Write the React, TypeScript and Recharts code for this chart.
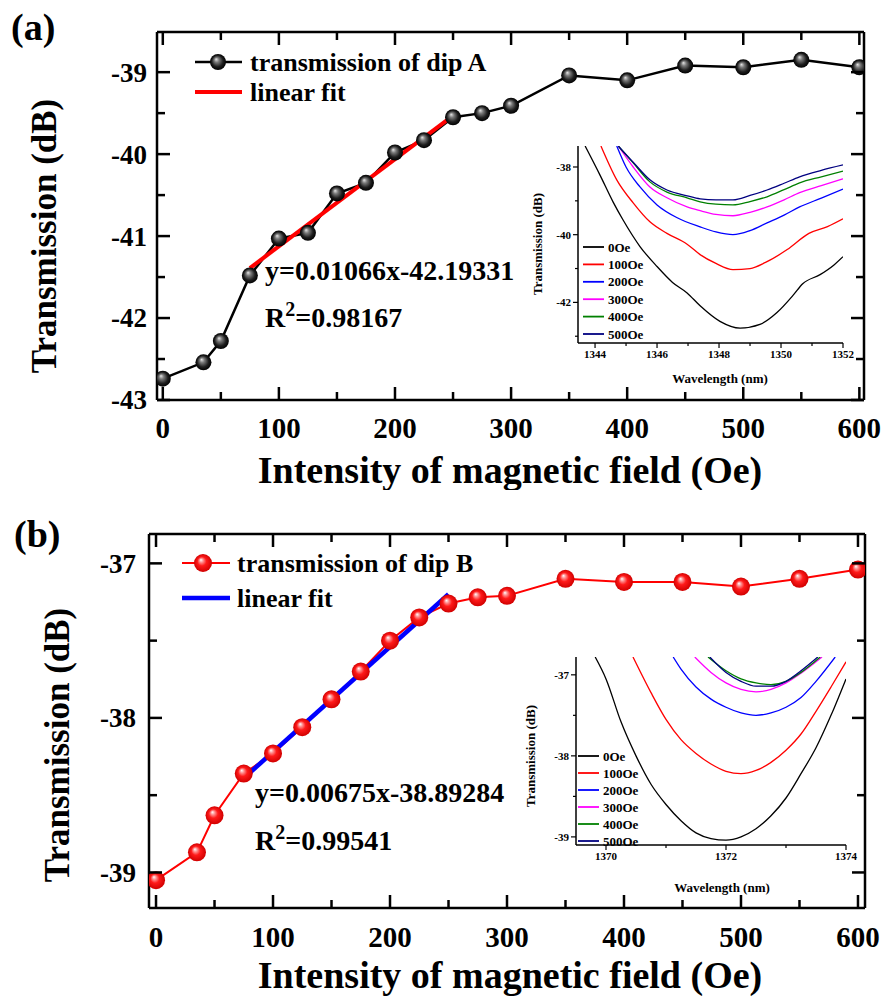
import React from "react";
import { LineChart, Line, XAxis, YAxis } from "recharts";

const FONT = '"Liberation Serif", "Times New Roman", serif';

// main panels: magnetic field (Oe) vs dip transmission (dB)
const fields = [0, 35, 50, 75, 100, 125, 150, 175, 200, 225, 250, 275, 300, 350, 400, 450, 500, 550, 600];
const dipA = [-42.74, -42.54, -42.28, -41.48, -41.03, -40.96, -40.48, -40.35, -39.98, -39.83, -39.55, -39.5, -39.41, -39.04, -39.1, -38.92, -38.94, -38.85, -38.94];
const dipB = [-39.05, -38.87, -38.63, -38.36, -38.23, -38.06, -37.88, -37.7, -37.5, -37.35, -37.26, -37.22, -37.21, -37.1, -37.12, -37.12, -37.15, -37.1, -37.04];
const fitX = [75, 250];
const fitA = [-41.39, -39.53];
const fitB = [-38.39, -37.2];

const fieldTicks = [0, 50, 100, 150, 200, 250, 300, 350, 400, 450, 500, 550, 600];
const fieldMajors = [0, 100, 200, 300, 400, 500, 600];
const yTicksA = [-43, -42.5, -42, -41.5, -41, -40.5, -40, -39.5, -39];
const yTicksB = [-39, -38.5, -38, -37.5, -37];
const intMajors = [-43, -42, -41, -40, -39, -38, -37];

// inset (a): spectra around dip A
const insetALabels = ["0Oe", "100Oe", "200Oe", "300Oe", "400Oe", "500Oe"];
const insetColors = ["#000000", "#ff0000", "#0000ff", "#ff00ff", "#008000", "#000080"];
const a0Wl = [1343.68, 1344.16, 1344.58, 1344.9, 1345.45, 1346.0, 1346.5, 1346.97, 1347.39, 1348.03, 1348.68, 1349.32, 1349.87, 1350.4, 1350.7, 1351.26, 1351.7, 1352];
const a0T = [-37.38, -38.24, -39.03, -39.56, -40.35, -40.94, -41.41, -41.72, -42.1, -42.56, -42.76, -42.65, -42.3, -41.78, -41.45, -41.18, -40.9, -40.65];
const a100Wl = [1344.19, 1344.7, 1345.23, 1345.77, 1346.32, 1346.97, 1347.39, 1347.9, 1348.45, 1349.0, 1349.5, 1350.2, 1350.9, 1351.5, 1352];
const a100T = [-37.38, -38.38, -39.06, -39.62, -39.96, -40.28, -40.59, -40.85, -41.03, -41.0, -40.82, -40.44, -39.96, -39.76, -39.53];
const a200Wl = [1344.7, 1345.0, 1345.45, 1346.0, 1346.65, 1347.39, 1347.9, 1348.45, 1349.0, 1349.55, 1350.1, 1350.6, 1351.3, 1352];
const a200T = [-37.38, -38.0, -38.59, -39.12, -39.5, -39.77, -39.92, -40.0, -39.88, -39.65, -39.42, -39.18, -38.92, -38.65];
const aHiWl = [1344.75, 1345.23, 1345.77, 1346.32, 1346.97, 1347.39, 1347.9, 1348.45, 1349.0, 1349.55, 1350.1, 1350.6, 1351.3, 1352];
const a300T = [-37.38, -38.0, -38.59, -38.91, -39.18, -39.29, -39.4, -39.44, -39.34, -39.18, -38.97, -38.76, -38.55, -38.35];
const a400T = [-37.38, -37.88, -38.44, -38.74, -38.91, -39.03, -39.1, -39.12, -39.02, -38.88, -38.67, -38.47, -38.29, -38.12];
const a500T = [-37.38, -37.86, -38.38, -38.68, -38.85, -38.94, -38.97, -38.97, -38.84, -38.68, -38.48, -38.29, -38.1, -37.94];

// inset (b): spectra around dip B
const b0Wl = [1369.82, 1370.0, 1370.25, 1370.5, 1370.75, 1371.0, 1371.25, 1371.5, 1371.75, 1372.0, 1372.25, 1372.5, 1372.75, 1373.0, 1373.25, 1373.5, 1373.75, 1374.0];
const b0T = [-36.78, -37.05, -37.58, -38.0, -38.35, -38.6, -38.8, -38.95, -39.02, -39.04, -39.0, -38.9, -38.74, -38.52, -38.22, -37.9, -37.5, -37.05];
const b100Wl = [1370.45, 1370.75, 1371.0, 1371.25, 1371.5, 1371.75, 1372.0, 1372.25, 1372.5, 1372.75, 1373.0, 1373.25, 1373.5, 1373.75, 1374.0];
const b100T = [-36.78, -37.22, -37.55, -37.8, -37.97, -38.1, -38.19, -38.22, -38.18, -38.08, -37.93, -37.73, -37.45, -37.15, -36.84];
const b200Wl = [1371.12, 1371.25, 1371.5, 1371.75, 1372.0, 1372.25, 1372.5, 1372.75, 1373.0, 1373.25, 1373.5, 1373.82];
const b200T = [-36.78, -36.93, -37.15, -37.3, -37.4, -37.47, -37.5, -37.47, -37.4, -37.28, -37.08, -36.78];
const b300Wl = [1371.48, 1371.75, 1372.0, 1372.25, 1372.5, 1372.75, 1373.0, 1373.25, 1373.6];
const b300T = [-36.78, -36.97, -37.1, -37.18, -37.21, -37.18, -37.1, -36.98, -36.78];
const b400Wl = [1371.7, 1372.0, 1372.25, 1372.5, 1372.75, 1373.0, 1373.25, 1373.57];
const b400T = [-36.78, -36.95, -37.05, -37.1, -37.12, -37.08, -36.97, -36.78];
const b500Wl = [1371.73, 1372.0, 1372.25, 1372.5, 1372.75, 1373.0, 1373.25, 1373.53];
const b500T = [-36.78, -36.97, -37.08, -37.14, -37.14, -37.08, -36.95, -36.78];

const zip = (xs: number[], ys: number[]) => xs.map((x, i) => ({ x, y: ys[i] }));

const txt = (size: number) => ({ fontFamily: FONT, fontWeight: 700, fontSize: size, fill: "#000" });

// tick drawn by hand so it can point into the frame and have minor ticks
const AxisTick = (props: any) => {
  const { x, y, payload, side, majors, majorLen, minorLen, inward, showLabel, gap, fontSize, sw } = props;
  const v = payload?.value;
  const isMajor = majors.some((m: number) => Math.abs(m - v) < 1e-6);
  const len = isMajor ? majorLen : minorLen;
  const d = inward ? 1 : -1;
  const label = showLabel && isMajor ? String(v) : null;
  if (side === "left" || side === "right") {
    const dir = side === "left" ? d : -d;
    const x2 = x + dir * len;
    return (
      <g>
        <line x1={x} y1={y} x2={x2} y2={y} stroke="#000" strokeWidth={sw} />
        {label && (
          <text x={Math.min(x, x2) - gap} y={y} dy="0.35em" textAnchor="end" style={txt(fontSize)}>
            {label}
          </text>
        )}
      </g>
    );
  }
  const dir = side === "bottom" ? -d : d;
  const y2 = y + dir * len;
  return (
    <g>
      <line x1={x} y1={y} x2={x} y2={y2} stroke="#000" strokeWidth={sw} />
      {label && (
        <text x={x} y={Math.max(y, y2) + gap} dy="0.35em" textAnchor="middle" style={txt(fontSize)}>
          {label}
        </text>
      )}
    </g>
  );
};

const tickFn = (opts: any) => (p: any) => <AxisTick {...p} {...opts} />;

const ballDot = (fill: string, r: number) => (p: any) =>
  <circle key={`d-${p.index}`} cx={p.cx} cy={p.cy} r={r} fill={fill} />;

const BallDefs = () => (
  <defs>
    <radialGradient id="ballK" cx="50%" cy="50%" r="50%" fx="38%" fy="32%">
      <stop offset="0%" stopColor="#e6e6e6" />
      <stop offset="30%" stopColor="#7a7a7a" />
      <stop offset="70%" stopColor="#1e1e1e" />
      <stop offset="100%" stopColor="#000" />
    </radialGradient>
    <radialGradient id="ballR" cx="50%" cy="50%" r="50%" fx="38%" fy="32%">
      <stop offset="0%" stopColor="#ffffff" />
      <stop offset="22%" stopColor="#ff9090" />
      <stop offset="50%" stopColor="#ff1a1a" />
      <stop offset="100%" stopColor="#d00000" />
    </radialGradient>
  </defs>
);

const mainAxes = (xDomain: number[], yDomain: number[], yTicks: number[], yGap: number, xGap: number) => {
  const base = { majorLen: 13, minorLen: 8, inward: true, sw: 2.5 };
  const axisLine = { stroke: "#000", strokeWidth: 2.5 };
  return [
    <XAxis key="xb" xAxisId="b" type="number" dataKey="x" domain={xDomain} ticks={fieldTicks} interval={0}
      allowDataOverflow height={40} tickSize={0} tickMargin={0} axisLine={axisLine} tickLine={false}
      tick={tickFn({ ...base, fontSize: 29, side: "bottom", majors: fieldMajors, showLabel: true, gap: xGap })} />,
    <XAxis key="xt" xAxisId="t" orientation="top" type="number" dataKey="x" domain={xDomain} ticks={fieldTicks} interval={0}
      allowDataOverflow height={10} tickSize={0} tickMargin={0} axisLine={axisLine} tickLine={false}
      tick={tickFn({ ...base, fontSize: 29, side: "top", majors: fieldMajors, showLabel: false, gap: 0 })} />,
    <YAxis key="yl" yAxisId="l" type="number" domain={yDomain} ticks={yTicks} interval={0}
      allowDataOverflow width={60} tickSize={0} tickMargin={0} axisLine={axisLine} tickLine={false}
      tick={tickFn({ ...base, fontSize: 27, side: "left", majors: intMajors, showLabel: true, gap: yGap })} />,
    <YAxis key="yr" yAxisId="r" orientation="right" type="number" domain={yDomain} ticks={yTicks} interval={0}
      allowDataOverflow width={10} tickSize={0} tickMargin={0} axisLine={axisLine} tickLine={false}
      tick={tickFn({ ...base, fontSize: 27, side: "right", majors: intMajors, showLabel: false, gap: 0 })} />,
  ];
};

const PanelA = () => (
  <div style={{ position: "absolute", left: 0, top: 0 }}>
    <LineChart width={886} height={490} margin={{ top: 22, right: 12, left: 97, bottom: 50 }}>
      <BallDefs />
      {mainAxes([-5, 604], [-43, -38.51], yTicksA, 10, 28)}
      <Line xAxisId="b" yAxisId="l" data={zip(fields, dipA)} dataKey="y" type="linear" stroke="#000"
        strokeWidth={2.5} dot={ballDot("url(#ballK)", 8)} isAnimationActive={false} />
      <Line xAxisId="b" yAxisId="l" data={zip(fitX, fitA)} dataKey="y" type="linear" stroke="#ff0000"
        strokeWidth={4} dot={false} isAnimationActive={false} />
      <text x={11} y={40} style={txt(38)}>(a)</text>
      <text x={44} y={236} dy="0.35em" textAnchor="middle" transform="rotate(-90 44 236)" style={txt(35)}>Transmission (dB)</text>
      <text x={510} y={470} dy="0.35em" textAnchor="middle" style={txt(38)}>Intensity of magnetic field (Oe)</text>
      <line x1={195} y1={62} x2={242} y2={62} stroke="#000" strokeWidth={2.5} />
      <circle cx={218} cy={62} r={8} fill="url(#ballK)" />
      <text x={250} y={62} dy="0.35em" style={txt(26)}>transmission of dip A</text>
      <line x1={195} y1={92} x2={242} y2={92} stroke="#ff0000" strokeWidth={4} />
      <text x={250} y={92} dy="0.35em" style={txt(26)}>linear fit</text>
      <text x={265} y={270} dy="0.35em" style={txt(28)}>y=0.01066x-42.19331</text>
      <text x={265} y={317} dy="0.35em" style={txt(28)}>
        R<tspan dy={-11} fontSize={20}>2</tspan><tspan dy={11}>=0.98167</tspan>
      </text>
    </LineChart>
  </div>
);

const PanelB = () => (
  <div style={{ position: "absolute", left: 0, top: 500 }}>
    <LineChart width={886} height={497} margin={{ top: 24, right: 11, left: 89, bottom: 49 }}>
      <BallDefs />
      {mainAxes([-6, 606], [-39.23, -36.81], yTicksB, 13, 29)}
      <Line xAxisId="b" yAxisId="l" data={zip(fields, dipB)} dataKey="y" type="linear" stroke="#ff0000"
        strokeWidth={2} dot={ballDot("url(#ballR)", 9)} isAnimationActive={false} />
      <Line xAxisId="b" yAxisId="l" data={zip(fitX, fitB)} dataKey="y" type="linear" stroke="#0000ff"
        strokeWidth={4.5} dot={false} isAnimationActive={false} />
      <text x={14} y={47} style={txt(38)}>(b)</text>
      <text x={57} y={245} dy="0.35em" textAnchor="middle" transform="rotate(-90 57 245)" style={txt(35)}>Transmission (dB)</text>
      <text x={510} y={475} dy="0.35em" textAnchor="middle" style={txt(38)}>Intensity of magnetic field (Oe)</text>
      <line x1={182} y1={63} x2={230} y2={63} stroke="#ff0000" strokeWidth={2} />
      <circle cx={203} cy={63} r={9} fill="url(#ballR)" />
      <text x={237} y={63} dy="0.35em" style={txt(26)}>transmission of dip B</text>
      <line x1={182} y1={98} x2={230} y2={98} stroke="#0000ff" strokeWidth={4.5} />
      <text x={237} y={98} dy="0.35em" style={txt(26)}>linear fit</text>
      <text x={255} y={292} dy="0.35em" style={txt(28)}>y=0.00675x-38.89284</text>
      <text x={255} y={340} dy="0.35em" style={txt(28)}>
        R<tspan dy={-11} fontSize={20}>2</tspan><tspan dy={11}>=0.99541</tspan>
      </text>
    </LineChart>
  </div>
);

const insetAxes = (xDomain: number[], xTicks: number[], xMajors: number[], yDomain: number[], yTicks: number[], yMajors: number[]) => {
  const base = { majorLen: 5, minorLen: 3, inward: false, fontSize: 11, sw: 1.2 };
  const axisLine = { stroke: "#000", strokeWidth: 1.5 };
  return [
    <XAxis key="x" type="number" dataKey="x" domain={xDomain} ticks={xTicks} interval={0} allowDataOverflow
      height={20} tickSize={0} tickMargin={0} axisLine={axisLine} tickLine={false}
      tick={tickFn({ ...base, side: "bottom", majors: xMajors, showLabel: true, gap: 6 })} />,
    <YAxis key="y" type="number" domain={yDomain} ticks={yTicks} interval={0} allowDataOverflow
      width={24} tickSize={0} tickMargin={0} axisLine={axisLine} tickLine={false}
      tick={tickFn({ ...base, side: "left", majors: yMajors, showLabel: true, gap: 2 })} />,
  ];
};

const InsetLegend = ({ x, y0, step }: { x: number; y0: number; step: number }) => (
  <g>
    {insetALabels.map((lab, i) => (
      <g key={lab}>
        <line x1={x} y1={y0 + i * step} x2={x + 21} y2={y0 + i * step} stroke={insetColors[i]} strokeWidth={1.8} />
        <text x={x + 25} y={y0 + i * step} dy="0.35em" style={txt(13)}>{lab}</text>
      </g>
    ))}
  </g>
);

const InsetA = () => {
  const curves = [zip(a0Wl, a0T), zip(a100Wl, a100T), zip(a200Wl, a200T), zip(aHiWl, a300T), zip(aHiWl, a400T), zip(aHiWl, a500T)];
  return (
    <div style={{ position: "absolute", left: 500, top: 130 }}>
      <LineChart width={370} height={260} margin={{ top: 16, right: 27, left: 54, bottom: 27 }}>
        {insetAxes([1343.45, 1352], [1344, 1345, 1346, 1347, 1348, 1349, 1350, 1351, 1352], [1344, 1346, 1348, 1350, 1352],
          [-43.2, -37.38], [-43, -42, -41, -40, -39, -38], [-42, -40, -38])}
        {curves.map((c, i) => (
          <Line key={i} data={c} dataKey="y" type="monotone" stroke={insetColors[i]} strokeWidth={1.3}
            dot={false} isAnimationActive={false} />
        ))}
        <InsetLegend x={83} y0={117} step={17.4} />
        <text x={37} y={114} dy="0.35em" textAnchor="middle" transform="rotate(-90 37 114)" style={txt(13)}>Transmission (dB)</text>
        <text x={220} y={248} dy="0.35em" textAnchor="middle" style={txt(13)}>Wavelength (nm)</text>
      </LineChart>
    </div>
  );
};

const InsetB = () => {
  const curves = [zip(b0Wl, b0T), zip(b100Wl, b100T), zip(b200Wl, b200T), zip(b300Wl, b300T), zip(b400Wl, b400T), zip(b500Wl, b500T)];
  return (
    <div style={{ position: "absolute", left: 500, top: 640 }}>
      <LineChart width={370} height={260} margin={{ top: 17, right: 24, left: 52, bottom: 35 }}>
        {insetAxes([1369.5, 1374], [1370, 1371, 1372, 1373, 1374], [1370, 1372, 1374],
          [-39.1, -36.78], [-39, -38.5, -38, -37.5, -37], [-39, -38, -37])}
        {curves.map((c, i) => (
          <Line key={i} data={c} dataKey="y" type="monotone" stroke={insetColors[i]} strokeWidth={1.3}
            dot={false} isAnimationActive={false} />
        ))}
        <InsetLegend x={78} y0={116} step={17} />
        <text x={30} y={116} dy="0.35em" textAnchor="middle" transform="rotate(-90 30 116)" style={txt(13)}>Transmission (dB)</text>
        <text x={222} y={247} dy="0.35em" textAnchor="middle" style={txt(13)}>Wavelength (nm)</text>
      </LineChart>
    </div>
  );
};

export default function App() {
  return (
    <div style={{ position: "absolute", left: 0, top: 0, width: 886, height: 997, background: "#fff", overflow: "hidden" }}>
      <PanelA />
      <InsetA />
      <PanelB />
      <InsetB />
    </div>
  );
}
